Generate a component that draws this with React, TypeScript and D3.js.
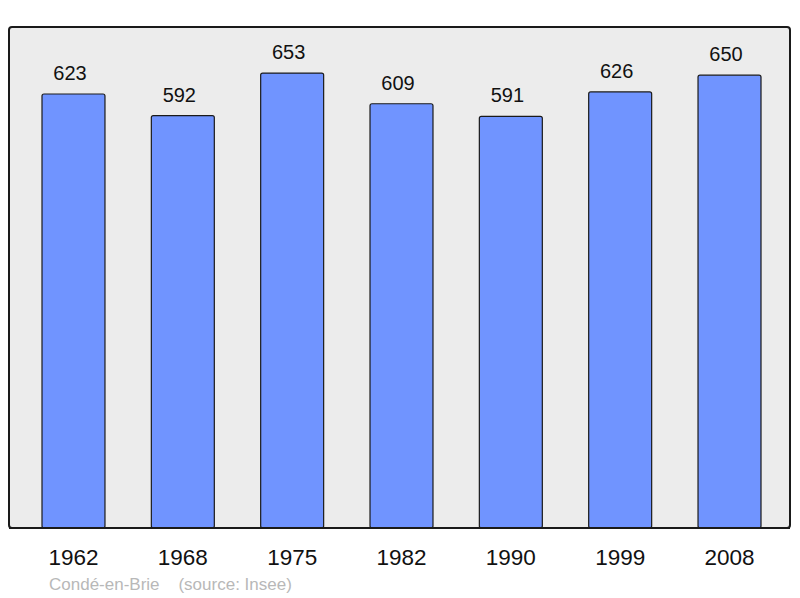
import * as d3 from 'd3';
import React from 'react';

const years = ['1962', '1968', '1975', '1982', '1990', '1999', '2008'];
const population = [623, 592, 653, 609, 591, 626, 650];
const footerText = 'Condé-en-Brie    (source: Insee)';

export default function App() {
  const w = 800;
  const h = 598;
  const frame = { left: 9, top: 27, right: 790, bottom: 528 };

  const xScale = d3.scaleBand<string>().domain(years).range([42, 761]).paddingInner(0.424).paddingOuter(0);
  const yScale = d3.scaleLinear().domain([0, 719.2]).range([frame.bottom, frame.top]);

  const font = '"Liberation Sans", Arial, sans-serif';

  return (
    <div style={{ position: 'absolute', left: 0, top: 0 }}>
      <svg width={w} height={h} style={{ display: 'block', background: 'white' }}>
        <rect
          x={frame.left}
          y={frame.top}
          width={frame.right - frame.left}
          height={frame.bottom - frame.top}
          rx={3}
          fill='#ececec'
          stroke='#1a1a1a'
          strokeWidth={2}
        />
        {years.map((yr, i) => {
          const x = xScale(yr) ?? 0;
          const y = yScale(population[i]);
          const cx = x + xScale.bandwidth() / 2;
          return (
            <g key={yr}>
              <rect
                x={x}
                y={y}
                width={xScale.bandwidth()}
                height={frame.bottom - y}
                rx={2}
                fill='#7094ff'
                stroke='#1a1a1a'
                strokeWidth={1.2}
              />
              <text x={cx - 3.5} y={y - 14} textAnchor='middle' fontFamily={font} fontSize={20} fill='#111'>
                {population[i]}
              </text>
              <text x={cx} y={565} textAnchor='middle' fontFamily={font} fontSize={22.5} fill='#111'>
                {yr}
              </text>
            </g>
          );
        })}
        <line x1={frame.left} x2={frame.right} y1={frame.bottom} y2={frame.bottom} stroke='#1a1a1a' strokeWidth={2} />
        <text x={49} y={590} fontFamily={font} fontSize={17} fill='#b8b8b8' style={{ whiteSpace: 'pre' }}>
          {footerText}
        </text>
      </svg>
    </div>
  );
}
